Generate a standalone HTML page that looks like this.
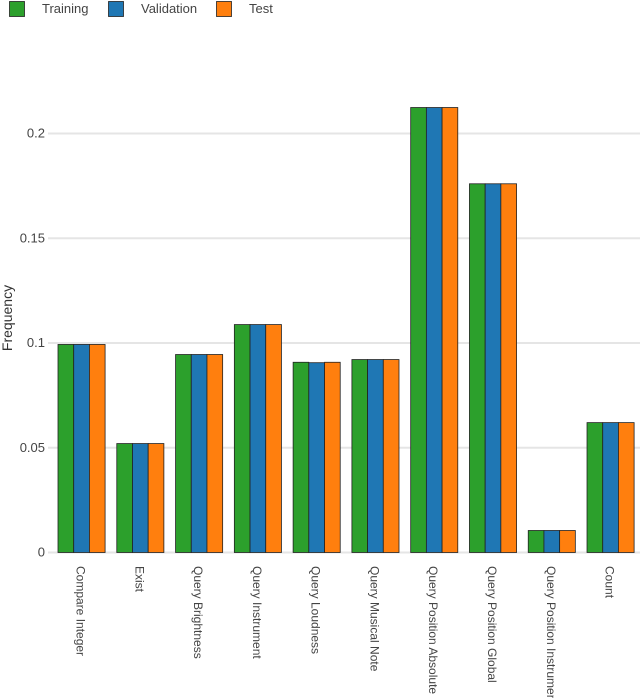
<!DOCTYPE html>
<html><head><meta charset="utf-8"><style>
body{margin:0;background:#fff;}
svg{display:block;font-family:"Liberation Sans",sans-serif;}
</style></head><body>
<svg id="chart" width="640" height="698"></svg>
<script>
const categories=["Compare Integer","Exist","Query Brightness","Query Instrument","Query Loudness","Query Musical Note","Query Position Absolute","Query Position Global","Query Position Instrument","Count"];
const training=[0.0993,0.052,0.0945,0.1088,0.0908,0.0921,0.2124,0.176,0.0105,0.062];
const validation=[0.0993,0.052,0.0945,0.1088,0.0906,0.0921,0.2124,0.176,0.0105,0.062];
const test=[0.0993,0.052,0.0945,0.1088,0.0908,0.0921,0.2124,0.176,0.0105,0.062];
const yTicks=[0,0.05,0.1,0.15,0.2];
const yTickLabels=["0","0.05","0.1","0.15","0.2"];
const seriesNames=["Training","Validation","Test"];
const colors=["#2ca02c","#1f77b4","#ff7f0e"];
const NS="http://www.w3.org/2000/svg";
const svg=document.getElementById("chart");
const y0=552.5,pxPerUnit=2095;
const y=v=>y0-v*pxPerUnit;
const x0=58,step=58.78,barW=15.7;
const x=i=>x0+i*step;
function mk(tag,attrs,parent){const e=document.createElementNS(NS,tag);for(const k in attrs)e.setAttribute(k,attrs[k]);(parent||svg).appendChild(e);return e;}
// grid + ticks
yTicks.forEach((t,i)=>{
  const g=mk("line",{x1:48,x2:640,y1:y(t),y2:y(t),stroke:"#e5e5e5","stroke-width":2});
  
  
  const tx=mk("text",{x:45,y:y(t)+4,"text-anchor":"end","font-size":13,fill:"#444"});
  tx.textContent=yTickLabels[i];
  
  
});
const yt=mk("text",{transform:"translate(12,318) rotate(-90)","text-anchor":"middle","font-size":14,fill:"#333"});
yt.textContent="Frequency";


const series=[training,validation,test];
categories.forEach((c,i)=>{
  series.forEach((s,j)=>{
    const r=mk("rect",{x:x(i)+j*barW,y:y(s[i]),width:barW,height:y0-y(s[i]),fill:colors[j],stroke:"#222","stroke-width":0.8});
    
    
  });
  const cx=x(i)+1.5*barW;
  const t=mk("text",{transform:`translate(${cx-5},566) rotate(90)`,"font-size":12,fill:"#444"});
  t.textContent=c;
  
  
});
// legend
const lx=[9,108,216];
seriesNames.forEach((n,j)=>{
  const r=mk("rect",{x:lx[j]+0.5,y:1.5,width:15,height:15,fill:colors[j],stroke:"#222","stroke-width":0.8});
  
  
  const t=mk("text",{x:lx[j]+33,y:13,"font-size":13,fill:"#444"});
  t.textContent=n;
  
  
});
</script>
</body></html>
